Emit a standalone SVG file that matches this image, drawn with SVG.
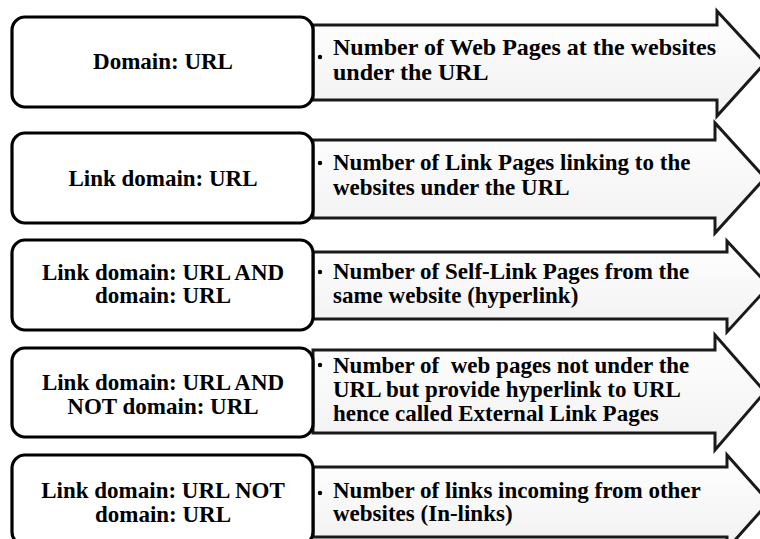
<svg xmlns="http://www.w3.org/2000/svg" width="760" height="539" viewBox="0 0 760 539">
<defs>
<linearGradient id="ag" x1="0" y1="0" x2="0" y2="1">
<stop offset="0" stop-color="#ffffff"/>
<stop offset="1" stop-color="#f1f1f1"/>
</linearGradient>
<style>
.arrow{fill:url(#ag);stroke:#1a1a1a;stroke-width:3;stroke-linejoin:miter}
.box{fill:#ffffff;stroke:#000;stroke-width:3.2}
text{font-family:'Times New Roman','Liberation Serif',Tinos,'DejaVu Serif',serif;font-weight:700;font-size:23px;fill:#000}
.lt{text-anchor:middle}
.dot{fill:#000}
</style>
</defs>
<rect width="760" height="539" fill="#ffffff"/>
<g id="connectors">
<path class="arrow" d="M313,25 H717 V11 L765,63 L717,116 V100 H313 Z"/>
<path class="arrow" d="M313,140 H715 V123 L765,178 L715,233 V218 H313 Z"/>
<path class="arrow" d="M313,252 H727 V241 L769,286 L727,332 V319 H313 Z"/>
<path class="arrow" d="M313,350 H715 V335 L765,392 L715,450 V433 H313 Z"/>
<path class="arrow" d="M313,467 H727 V455 L769,502 L727,549 V537 H313 Z"/>
</g>
<g id="node1">
<rect class="box" x="12" y="17" width="301" height="90" rx="13"/>
<text class="lt" x="163" y="69">Domain: URL</text>
<circle class="dot" cx="320" cy="57" r="2.2"/>
<text class="rt" x="333" y="55" style="font-size:24px">Number of Web Pages at the websites</text>
<text class="rt" x="333" y="80" style="font-size:24px">under the URL</text>
</g>
<g id="node2">
<rect class="box" x="12" y="133" width="301" height="90" rx="13"/>
<text class="lt" x="163" y="186">Link domain: URL</text>
<circle class="dot" cx="320" cy="163" r="2.2"/>
<text class="rt" x="333" y="170">Number of Link Pages linking to the</text>
<text class="rt" x="333" y="195">websites under the URL</text>
</g>
<g id="node3">
<rect class="box" x="12" y="240" width="301" height="90" rx="13"/>
<text class="lt" x="163" y="280">Link domain: URL AND</text>
<text class="lt" x="163" y="303">domain: URL</text>
<circle class="dot" cx="320" cy="272" r="2.2"/>
<text class="rt" x="333" y="279">Number of Self-Link Pages from the</text>
<text class="rt" x="333" y="303">same website (hyperlink)</text>
</g>
<g id="node4">
<rect class="box" x="12" y="348" width="301" height="89" rx="13"/>
<text class="lt" x="163" y="390">Link domain: URL AND</text>
<text class="lt" x="163" y="414">NOT domain: URL</text>
<circle class="dot" cx="320" cy="365" r="2.2"/>
<text class="rt" x="333" y="373" xml:space="preserve">Number of  web pages not under the</text>
<text class="rt" x="333" y="397">URL but provide hyperlink to URL</text>
<text class="rt" x="333" y="421">hence called External Link Pages</text>
</g>
<g id="node5">
<rect class="box" x="12" y="455" width="301" height="90" rx="13"/>
<text class="lt" x="163" y="498">Link domain: URL NOT</text>
<text class="lt" x="163" y="522">domain: URL</text>
<circle class="dot" cx="320" cy="493" r="2.2"/>
<text class="rt" x="333" y="498">Number of links incoming from other</text>
<text class="rt" x="333" y="521">websites (In-links)</text>
</g>
</svg>
